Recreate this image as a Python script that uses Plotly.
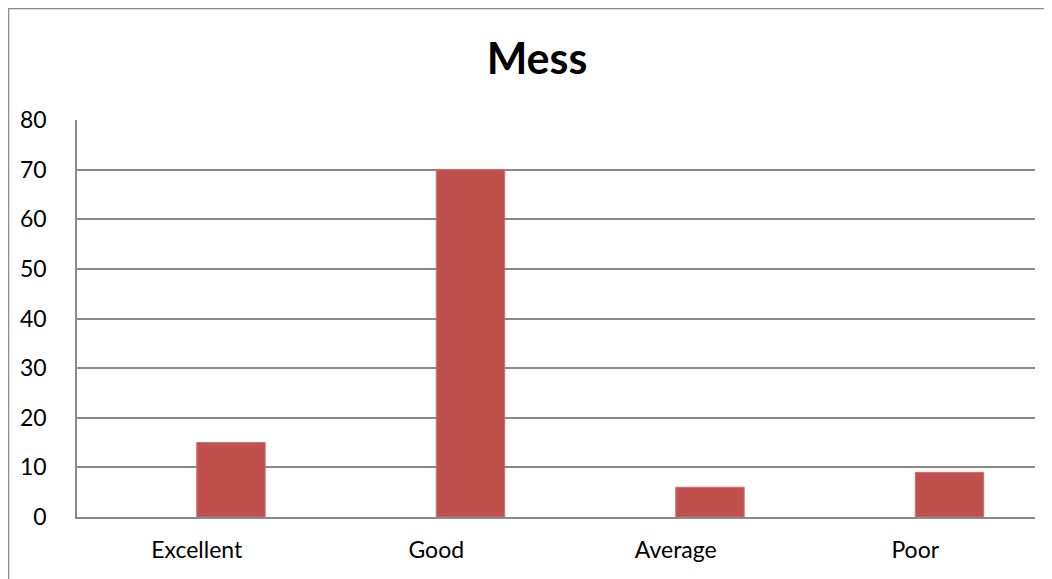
import plotly.graph_objects as go

categories = ["Excellent", "Good", "Average", "Poor"]
values = [15, 70, 6, 9]
placeholder = [None, None, None, None]
title_text = "Mess"

# page body has an 8px margin; compensate so that the figure lands where the reference is
OFF = 8
W, H = 1052, 579
ml, mt = 77 - OFF, 120 - OFF
mr = W - (1035 - OFF)
mb = H - (517 - OFF)
pw, ph = W - ml - mr, H - mt - mb

fig = go.Figure()
fig.add_trace(go.Bar(x=categories, y=placeholder, showlegend=False, hoverinfo="skip",
                     marker_color="rgba(0,0,0,0)"))
fig.add_trace(go.Bar(x=categories, y=values, showlegend=False,
                     marker=dict(color="#C0504D", line=dict(color="#CF6F6C", width=1))))

grid = "#898989"
font_family = "Lato, 'Open Sans', sans-serif"

# outer chart frame (extends beyond visible area on right/bottom)
fx0 = (8.5 - OFF - ml) / pw
fy1 = (H - mb - (8.5 - OFF)) / ph
fig.add_shape(type="rect", xref="paper", yref="paper", x0=fx0, x1=1.2, y0=-0.3, y1=fy1,
              line=dict(color="#8C8C8C", width=1.5), fillcolor="rgba(0,0,0,0)", layer="below")

fig.update_layout(
    width=W, height=H,
    margin=dict(l=ml, r=mr, t=mt, b=mb),
    paper_bgcolor="white", plot_bgcolor="white",
    barmode="group", bargap=1.5 / 3.5, bargroupgap=0,
    title=dict(text="<b>" + title_text + "</b>", x=(537 - OFF - ml) / pw, xref="paper", xanchor="center",
               y=(H - (59 - OFF)) / H, yanchor="middle", yref="container",
               font=dict(family=font_family, size=43, color="black")),
    font=dict(family=font_family, color="black"),
)
fig.update_xaxes(showline=True, linecolor=grid, linewidth=1.5, showgrid=False,
                 tickfont=dict(size=23, color="black"), ticks="", ticklabelstandoff=12)
fig.update_yaxes(range=[0, 80], dtick=10, showgrid=True, gridcolor=grid, gridwidth=1.5,
                 showline=True, linecolor=grid, linewidth=1.5, zeroline=False,
                 tickfont=dict(size=23, color="black"), ticks="", ticklabelstandoff=24)

fig.write_html("out.html")
